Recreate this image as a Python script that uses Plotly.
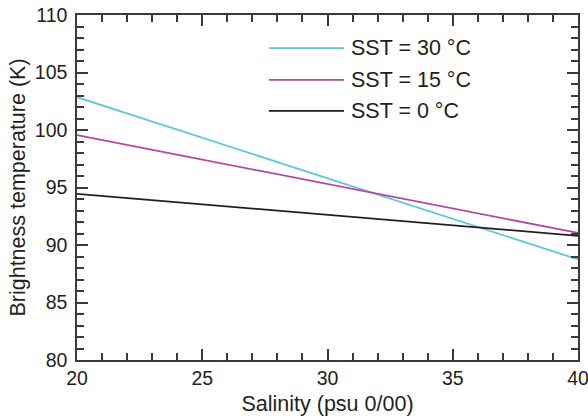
import plotly.graph_objects as go

salinity = [20, 40]
tb_sst30 = [102.85, 88.75]
tb_sst15 = [99.55, 91.05]
tb_sst0 = [94.45, 90.8]

series_names = ["SST = 30 °C", "SST = 15 °C", "SST = 0 °C"]
series_values = [tb_sst30, tb_sst15, tb_sst0]
series_colors = ["#5ec8d8", "#b5489b", "#231f20"]

x_ticks = [20, 25, 30, 35, 40]
y_ticks = [80, 85, 90, 95, 100, 105, 110]

FONT = "Liberation Sans, Arial, Helvetica, sans-serif"
AX = "#3a3a3a"
TXT = "#231f20"

fig = go.Figure()
for name, vals, col in zip(series_names, series_values, series_colors):
    fig.add_trace(go.Scatter(x=salinity, y=vals, mode="lines", name=name,
                             line=dict(color=col, width=1.8), showlegend=False))

# manual legend (long line samples)
leg_y = [0.904, 0.812, 0.722]
for name, col, yy in zip(series_names, series_colors, leg_y):
    fig.add_shape(type="line", xref="paper", yref="paper", x0=0.383, x1=0.533,
                  y0=yy, y1=yy, line=dict(color=col, width=1.8))
    fig.add_annotation(xref="paper", yref="paper", x=0.543, y=yy, text=name,
                       showarrow=False, xanchor="left", yanchor="middle",
                       font=dict(family=FONT, size=21.5, color=TXT))

axis_common = dict(
    showgrid=False, zeroline=False, showline=True, linecolor=AX, linewidth=1.5,
    mirror="ticks", ticks="inside", ticklen=11, tickwidth=1.5, tickcolor=AX,
    tickfont=dict(family=FONT, size=19.5, color=TXT), ticklabeloverflow="allow",
    minor=dict(ticks="inside", ticklen=7, tickwidth=1.5, tickcolor=AX, dtick=1, showgrid=False),
)

fig.update_xaxes(range=[20, 40], tickvals=x_ticks, ticktext=[str(v) for v in x_ticks],
                 title=dict(text="Salinity (psu 0/00)", font=dict(family=FONT, size=21.5, color=TXT), standoff=8),
                 **axis_common)
fig.update_yaxes(range=[80, 110], tickvals=y_ticks, ticktext=[str(v) for v in y_ticks],
                 ticklabelstandoff=4,
                 title=dict(text="Brightness temperature (K)", font=dict(family=FONT, size=21.5, color=TXT), standoff=3),
                 **axis_common)

fig.update_layout(width=588, height=420, margin=dict(l=77, r=10, t=15, b=60, autoexpand=False),
                  paper_bgcolor="white", plot_bgcolor="white", font=dict(family=FONT))

fig.write_html("out.html")
